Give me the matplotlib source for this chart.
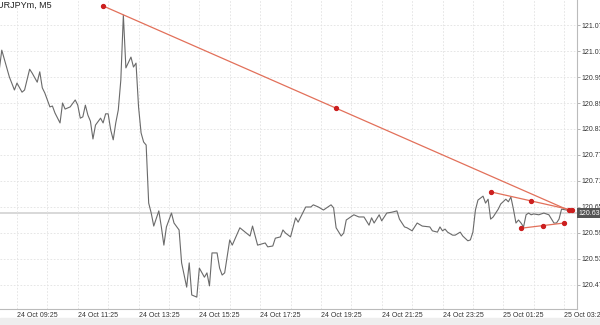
import matplotlib
matplotlib.use("Agg")
import matplotlib.pyplot as plt
from matplotlib.patches import Rectangle

plt.rcParams['font.family'] = ['Liberation Sans', 'DejaVu Sans']

# EURJPYm M5 close prices, x = bar number counted from 24 Oct 09:25
bars = [-7, -6, -4, -3, -1, 0, 2, 3, 5, 6, 8, 9, 10, 11, 13, 14, 15, 17, 18, 19,
        21, 23, 24, 25, 26, 27, 28, 29, 30, 31, 33, 34, 35, 36, 37, 38, 39, 40, 41, 42,
        43, 45, 46, 47, 48, 49, 50, 51, 52, 53, 54, 56, 57, 58, 59, 61, 62, 64, 65, 67,
        68, 69, 71, 72, 74, 75, 76, 77, 79, 80, 81, 82, 84, 85, 88, 92, 93, 95, 98, 99,
        101, 102, 104, 105, 106, 108, 110, 111, 113, 114, 116, 117, 119, 121, 124, 125, 126, 128, 129, 130,
        133, 135, 137, 139, 140, 141, 143, 144, 146, 148, 150, 151, 153, 154, 156, 157, 158, 160, 163, 164,
        166, 167, 168, 169, 170, 172, 173, 175, 176, 178, 179, 180, 181, 182, 184, 185, 186, 187, 188, 190,
        191, 193, 194, 195, 196, 197, 198, 199, 200, 201, 202, 203, 204, 206, 208, 210, 212, 213, 214, 215,
        217]
prices = [120.966, 121.012, 120.971, 120.950, 120.920, 120.936, 120.915, 120.920, 120.968, 120.959,
          120.938, 120.962, 120.925, 120.913, 120.881, 120.883, 120.867, 120.844, 120.890, 120.876,
          120.881, 120.897, 120.885, 120.855, 120.858, 120.885, 120.862, 120.848, 120.807, 120.839,
          120.855, 120.844, 120.865, 120.865, 120.828, 120.805, 120.844, 120.874, 120.943, 121.093,
          120.971, 120.996, 120.973, 120.982, 120.881, 120.821, 120.800, 120.793, 120.659, 120.636,
          120.606, 120.641, 120.604, 120.562, 120.604, 120.636, 120.613, 120.597, 120.521, 120.465,
          120.521, 120.447, 120.442, 120.509, 120.488, 120.498, 120.468, 120.544, 120.544, 120.509,
          120.493, 120.498, 120.574, 120.562, 120.602, 120.583, 120.606, 120.562, 120.567, 120.558,
          120.560, 120.578, 120.581, 120.597, 120.590, 120.581, 120.625, 120.615, 120.638, 120.650,
          120.650, 120.655, 120.650, 120.643, 120.655, 120.648, 120.602, 120.583, 120.590, 120.620,
          120.632, 120.627, 120.627, 120.608, 120.625, 120.613, 120.632, 120.618, 120.636, 120.638,
          120.641, 120.622, 120.604, 120.602, 120.595, 120.604, 120.613, 120.606, 120.604, 120.595,
          120.592, 120.604, 120.595, 120.599, 120.592, 120.585, 120.585, 120.592, 120.583, 120.572,
          120.574, 120.592, 120.643, 120.666, 120.675, 120.659, 120.668, 120.622, 120.627, 120.645,
          120.657, 120.668, 120.662, 120.673, 120.645, 120.613, 120.620, 120.613, 120.604, 120.632,
          120.636, 120.632, 120.634, 120.632, 120.636, 120.632, 120.613, 120.613, 120.622, 120.645,
          120.643]
last_price = 120.636

# trendlines (start bar, end bar, start price, end price)
trend_big = ([34, 218], [121.114, 120.642])
trend_upper = ([187, 219], [120.685, 120.643])
trend_lower = ([199, 216], [120.601, 120.613])

ytick_vals = [121.07, 121.01, 120.95, 120.89, 120.83, 120.77, 120.71, 120.65, 120.59, 120.53, 120.47]
xtick_bars = list(range(0, 228, 12))
xtick_text = ["24 Oct 09:25", "24 Oct 11:25", "24 Oct 13:25", "24 Oct 15:25", "24 Oct 17:25",
              "24 Oct 19:25", "24 Oct 21:25", "24 Oct 23:25", "25 Oct 01:25", "25 Oct 03:25"]

fig = plt.figure(figsize=(6, 3.25), dpi=100)
fig.patches.append(Rectangle((0, 0), 1, 7 / 325, transform=fig.transFigure,
                             color="#eeeeee", zorder=0))
ax = fig.add_axes([0, 16 / 325, 577 / 600, 309 / 325])

ax.axhline(last_price, color="#d6d6d6", lw=1.3, zorder=1)
ax.plot(bars, prices, color="#6a6a6a", lw=0.8, zorder=2)

for (bx, py) in (trend_big, trend_upper, trend_lower):
    ax.plot(bx, py, color="#e2705a", lw=0.9, zorder=3)
    mids = [(bx[0] + bx[1]) / 2]
    midp = [(py[0] + py[1]) / 2]
    ax.plot(bx + mids, py + midp, ls="none", marker="o", ms=2.8,
            color="#cc1f1f", zorder=4)

ax.set_xlim(-6.7, 221.1)
ax.set_ylim(120.4146, 121.1277)

ax.yaxis.tick_right()
ax.set_yticks(ytick_vals)
ax.set_yticklabels(["%.3f" % v for v in ytick_vals], fontsize=5, color="#333333")
ax.set_xticks(xtick_bars)
labels = []
for i in range(len(xtick_bars)):
    labels.append(xtick_text[i // 2] if i % 2 == 0 else "")
ax.set_xticklabels(labels, fontsize=5, color="#333333", ha="left")
ax.tick_params(axis="y", length=2, width=0.5, pad=1, color="#999999")
ax.tick_params(axis="x", length=0, pad=2)

ax.grid(True, color="#e2e2e2", lw=0.6, ls=(0, (2, 2)))
for s in ("top", "left"):
    ax.spines[s].set_visible(False)
ax.spines["right"].set_color("#bbbbbb")
ax.spines["bottom"].set_color("#bbbbbb")
ax.spines["right"].set_linewidth(0.8)
ax.spines["bottom"].set_linewidth(0.8)

ax.text(1.003, last_price, "%.3f" % last_price, transform=ax.get_yaxis_transform(),
        ha="left", va="center", fontsize=5, color="white", clip_on=False,
        bbox=dict(boxstyle="square,pad=0.2", fc="#555555", ec="none"), zorder=5)

fig.text(52 / 600, 1 - 1 / 325, "EURJPYm, M5", ha="right", va="top",
         fontsize=6.5, color="#222222")

fig.savefig("out.png", dpi=100)
